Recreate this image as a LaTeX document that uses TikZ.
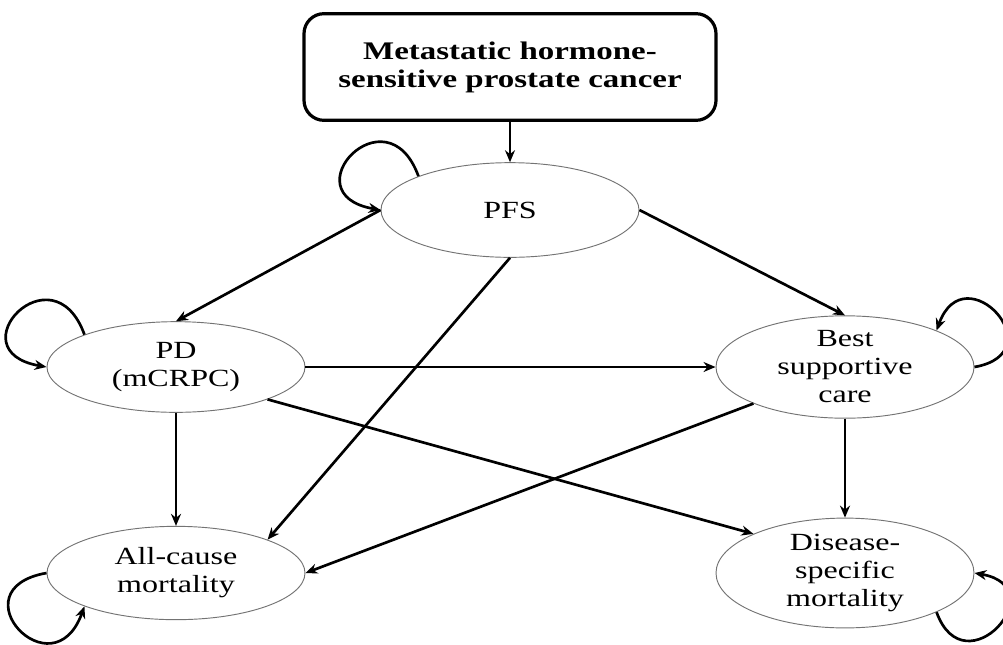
\documentclass[tikz,border=0pt]{standalone}
\usepackage{fontspec}
\setmainfont[FakeStretch=1.3]{Liberation Serif}
\usetikzlibrary{shapes.geometric, positioning, arrows.meta}

\begin{document}
\begin{tikzpicture}[>={Stealth[length=9pt,width=7.5pt]}, on grid,
    every node/.style={font=\fontsize{18.5}{21}\selectfont, align=center},
    phase/.style={ellipse, draw=black!55, line width=0.7pt, inner sep=0pt,
        minimum width=193.5pt, minimum height=68pt},
    entry/.style={rectangle, rounded corners=15pt, draw, line width=2.4pt,
        minimum width=309pt, minimum height=80pt,
        font=\bfseries\fontsize{19}{21}\selectfont},
    trans/.style={->, line width=2pt},
    self/.style={trans, distance=70pt}]
    \useasboundingbox (0,0) rectangle (752.25pt,-483pt);

    \node[entry] (mhspc) at (382.5pt,-50.25pt) {Metastatic hormone-\\sensitive prostate cancer};
    \node[phase, minimum height=71pt] (pfs) [below=107.25pt of mhspc] {PFS};
    \node[phase] (pd) [below left=117.75pt and 250.5pt of pfs] {PD\\(mCRPC)};
    \node[phase] (bsc) [right=501.75pt of pd] {Best\\supportive\\care};
    \node[phase, minimum height=70pt] (acm) [below=154.5pt of pd] {All-cause\\mortality};
    \node[phase, minimum height=71pt] (dsm) [below=154.5pt of bsc] {Disease-\\specific\\mortality};

    \path[trans]
        (mhspc) edge (pfs)
        (pfs.west) edge (pd.north)
        (pfs.east) edge (bsc.north)
        (pfs.south) edge (acm.north east)
        (pd.east) edge (bsc.west)
        (pd.south) edge (acm.north)
        (pd.south east) edge (dsm.north west)
        (bsc.south west) edge (acm.east)
        (bsc.south) edge (dsm.north);

    % loops
    \path[self]
        (pfs.north west) edge[out=110, in=170] (pfs.west)
        (pd.north west) edge[out=110, in=170] (pd.west)
        (bsc.east) edge[out=10, in=70, distance=62pt] (bsc.north east)
        (acm.west) edge[out=190, in=250] (acm.south west)
        (dsm.south east) edge[out=290, in=350, distance=62pt] (dsm.east);
\end{tikzpicture}
\end{document}
